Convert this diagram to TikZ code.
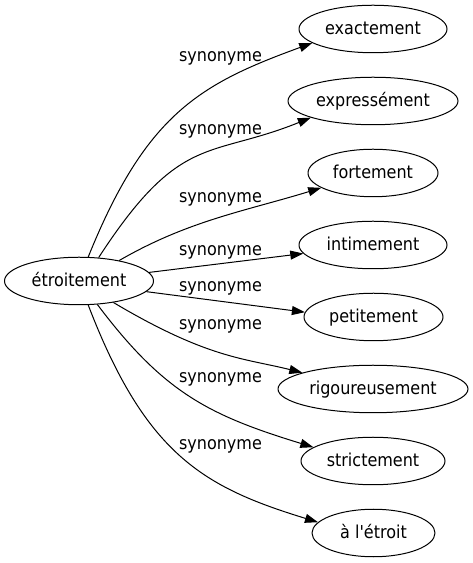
\documentclass[tikz,border=0pt]{standalone}
\usepackage{fontspec}
\setmainfont{DejaVu Sans Condensed}[Ligatures=TeXOff]
\usetikzlibrary{shapes.geometric,arrows.meta}
\begin{document}
\begin{tikzpicture}[x=1bp, y=1bp, >={Triangle[length=13bp,width=9bp]}, line width=1bp, line join=round,
    font=\fontsize{17.8bp}{20bp}\selectfont,
    mot/.style={draw, ellipse, inner sep=0pt, minimum height=47.5bp, text height=12bp, text depth=0pt},
    syn/.style={anchor=base}]
    \useasboundingbox (0,0) rectangle (473,563);
    \node[mot, minimum width=149bp] (etr) at (79,282) {étroitement};
    \node[mot, minimum width=148bp] (exa) at (373,534) {exactement};
    \node[mot, minimum width=170bp] (exp) at (373,462) {expressément};
    \node[mot, minimum width=130bp] (for) at (373,390) {fortement};
    \node[mot, minimum width=148bp] (int) at (373,318) {intimement};
    \node[mot, minimum width=139bp] (pet) at (373.5,246) {petitement};
    \node[mot, minimum width=190bp] (rig) at (373,174) {rigoureusement};
    \node[mot, minimum width=144bp] (str) at (373,102) {strictement};
    \node[mot, minimum width=123bp] (ale) at (373.5,30) {à l'étroit};
    \node[syn] (syn1) at (220.5,501.3) {synonyme};
    \node[syn] (syn2) at (220.5,428) {synonyme};
    \node[syn] (syn3) at (220.5,360.5) {synonyme};
    \node[syn] (syn4) at (220.5,307.5) {synonyme};
    \node[syn] (syn5) at (220.5,271.3) {synonyme};
    \node[syn] (syn6) at (220.5,233.8) {synonyme};
    \node[syn] (syn7) at (220.5,180.3) {synonyme};
    \node[syn] (syn8) at (220.5,113.7) {synonyme};
    \draw[->] (etr.69) ..controls +(68:154) and +(200:120) .. (exa.193);
    \draw[->] (etr.50) ..controls +(57:150) and +(202:110) .. (exp.195);
    \draw[->] (etr.27) ..controls +(30:80) and +(197:80) .. (for.196);
    \draw[->] (etr) -- (int);
    \draw[->] (etr.-9) -- (pet.176);
    \draw[->] (etr.-32) ..controls +(-30.7:110) and +(166:60) .. (rig.167);
    \draw[->] (etr.-52) ..controls +(-53:110) and +(163:110) .. (str.167);
    \draw[->] (etr.-69) ..controls +(-69:160) and +(163:120) .. (ale.169);
\end{tikzpicture}
\end{document}
